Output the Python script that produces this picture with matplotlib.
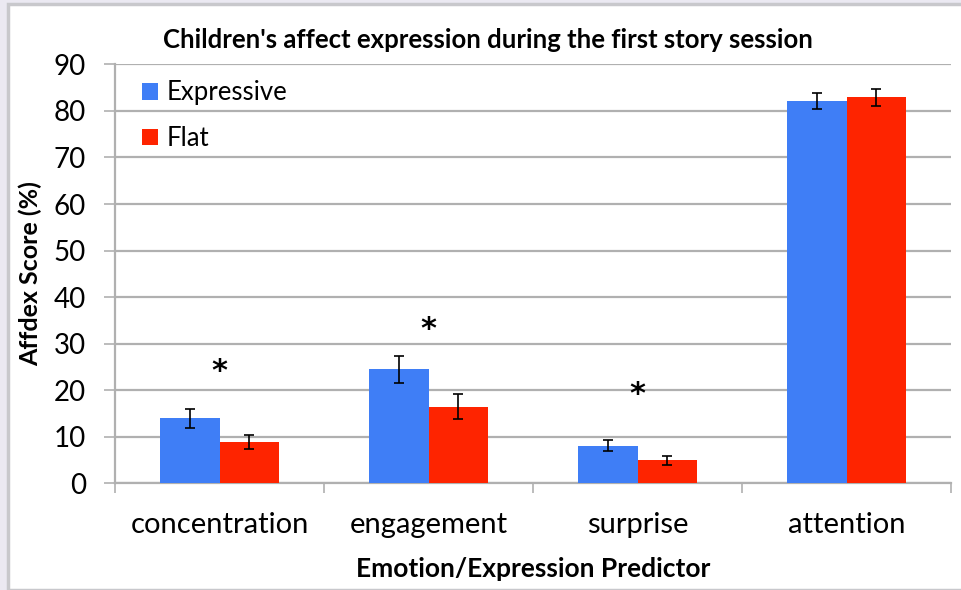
import matplotlib
matplotlib.use("Agg")
import matplotlib.pyplot as plt
from matplotlib.patches import Rectangle
import numpy as np

plt.rcParams['font.family'] = ['Lato', 'DejaVu Sans']

categories = ["concentration", "engagement", "surprise", "attention"]
expressive = [14.0, 24.5, 8.1, 82.2]
expressive_err = [2.05, 2.9, 1.2, 1.7]
flat = [8.9, 16.5, 4.9, 82.9]
flat_err = [1.5, 2.65, 0.9, 1.9]
star_y = [24.0, 33.1, 19.0, None]  # significance markers

blue = '#3f7ef6'
red = '#fe2400'
grid_c = '#b0b0b0'

fig = plt.figure(figsize=(9.61, 5.90), dpi=100)
fig.patch.set_facecolor('#ebe9f2')
# white panel with a soft grey edge, kept behind the axes
panel = Rectangle((8 / 961, 0), 1, 1 - 4 / 590, transform=fig.transFigure,
                  facecolor='white', edgecolor='#c8c8cc', linewidth=2.5, zorder=-10)
fig.add_artist(panel)

ax = fig.add_axes([115 / 961, 1 - 483.3 / 590, 836 / 961, (483.3 - 64.4) / 590])
ax.set_facecolor('none')

x = np.arange(len(categories))
w = 0.287
ax.bar(x - w / 2, expressive, width=w, color=blue, label='Expressive', zorder=3,
       yerr=expressive_err, error_kw=dict(ecolor='black', elinewidth=1.2, capsize=3.5, capthick=1.2))
ax.bar(x + w / 2, flat, width=w, color=red, label='Flat', zorder=3,
       yerr=flat_err, error_kw=dict(ecolor='black', elinewidth=1.2, capsize=3.5, capthick=1.2))

for i, s in enumerate(star_y):
    if s is not None:
        ax.text(i, s, '*', ha='center', va='center', fontsize=22, fontweight='bold',
                family='DejaVu Sans', color='black')

ax.set_xlim(-0.5, 3.5)
ax.set_ylim(0, 90)
ax.set_yticks(range(0, 91, 10))
ax.yaxis.grid(True, color=grid_c, linewidth=1.6, zorder=0)
ax.set_axisbelow(True)

ax.set_xticks(x)
ax.set_xticklabels(categories, fontsize=21)
ax.tick_params(axis='x', length=0, pad=21)
ax.set_xticks(np.arange(-0.5, 4, 1), minor=True)
ax.tick_params(axis='x', which='minor', length=7, color=grid_c, width=1.2, direction='out')
ax.tick_params(axis='y', length=8, color=grid_c, width=1.2, labelsize=20, pad=13)

for side in ['top', 'right']:
    ax.spines[side].set_visible(False)
for side in ['left', 'bottom']:
    ax.spines[side].set_color(grid_c)
    ax.spines[side].set_linewidth(1.6)

ax.set_ylabel("Affdex Score (%)", fontsize=18, fontweight='bold', labelpad=8)
ax.set_xlabel("Emotion/Expression Predictor", fontsize=19, fontweight='bold', labelpad=13)
fig.text(0.508, 0.932, "Children's affect expression during the first story session",
         ha='center', va='center', fontsize=18.5, fontweight='bold')

ax.legend(loc='upper left', bbox_to_anchor=(0.005, 1.017), frameon=False, fontsize=18.5,
          handlelength=0.6, handleheight=0.6, handletextpad=0.35, labelspacing=0.8)

fig.savefig("out.png", dpi=100, facecolor=fig.get_facecolor())
